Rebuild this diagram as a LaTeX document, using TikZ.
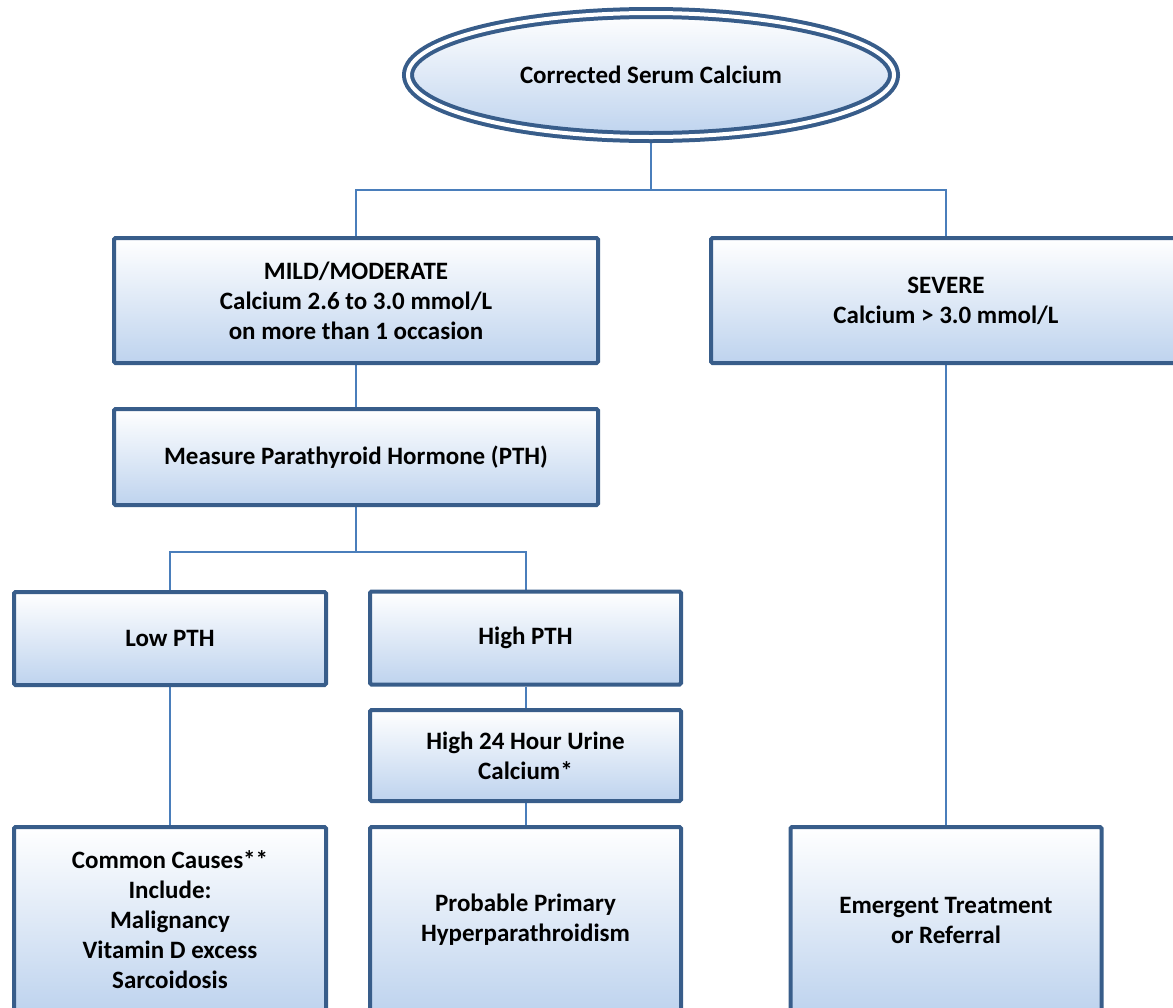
\documentclass[tikz,border=0pt]{standalone}
\usepackage{fontspec}
\setmainfont{Carlito}
\usetikzlibrary{shapes.geometric, backgrounds}

\definecolor{boxline}{HTML}{385D8A}
\definecolor{linkline}{HTML}{4A7EBB}
\definecolor{boxshade}{HTML}{BED3EE}

\begin{document}
\begin{tikzpicture}[x=1pt, y=-1pt,
  txt/.style={font=\bfseries\fontsize{25}{30}\selectfont, align=center},
  shaded/.style={top color=white, middle color=white, bottom color=boxshade},
  box/.style={txt, shaded, rectangle, draw=boxline, line width=4pt,
    rounded corners=1.5pt, inner sep=0pt},
  link/.style={draw=linkline, line width=2pt}]
  \useasboundingbox (0,0) rectangle (1173,1007);
  \clip (0,0) rectangle (1173,1007);

  % top
  \node[txt, shaded, ellipse, draw=boxline, line width=4pt,
        double=white, double distance=4pt,
        minimum width=486pt, minimum height=124pt] (csc) at (651,75)
        {Corrected Serum Calcium};

  % second row
  \node[box, minimum width=484pt, minimum height=125pt] (mild) at (356,300.5)
        {MILD/MODERATE\\Calcium 2.6 to 3.0 mmol/L\\on more than 1 occasion};
  \node[box, minimum width=470pt, minimum height=125pt] (sev) at (946,300.5)
        {SEVERE\\Calcium > 3.0 mmol/L};
  \node[box, minimum width=484pt, minimum height=96pt] (pth) at (356,457)
        {Measure Parathyroid Hormone (PTH)};

  % PTH results
  \node[box, minimum width=312pt, minimum height=93pt] (low) at (170,638.5) {Low PTH};
  \node[box, minimum width=311pt, minimum height=93pt] (high) at (525.5,638) {High PTH};
  \node[box, minimum width=311pt, minimum height=91pt] (urine) at (525.5,755.5)
        {High 24 Hour Urine\\Calcium*};

  % bottom row
  \node[box, minimum width=312pt, minimum height=186pt] (causes) at (170,920)
        {Common Causes**\\Include:\\Malignancy\\Vitamin D excess\\Sarcoidosis};
  \node[box, minimum width=311pt, minimum height=186pt] (prim) at (525.5,920)
        {Probable Primary\\Hyperparathroidism};
  \node[box, minimum width=311pt, minimum height=186pt] (emerg) at (946,920)
        {Emergent Treatment\\or Referral};

  \begin{scope}[on background layer]
    \draw[link] (csc.south) -- ++(0,51) coordinate (split1) -| (mild.north);
    \draw[link] (split1) -| (sev.north);
    \draw[link] (mild.south) -- (pth.north);
    \draw[link] (pth.south) -- ++(0,45) coordinate (split2) -| (low.north);
    \draw[link] (split2) -| (high.north);
    \draw[link] (low.south) -- (causes.north);
    \draw[link] (high.south) -- (urine.north);
    \draw[link] (urine.south) -- (prim.north);
    \draw[link] (sev.south) -- (emerg.north);
  \end{scope}
\end{tikzpicture}
\end{document}
